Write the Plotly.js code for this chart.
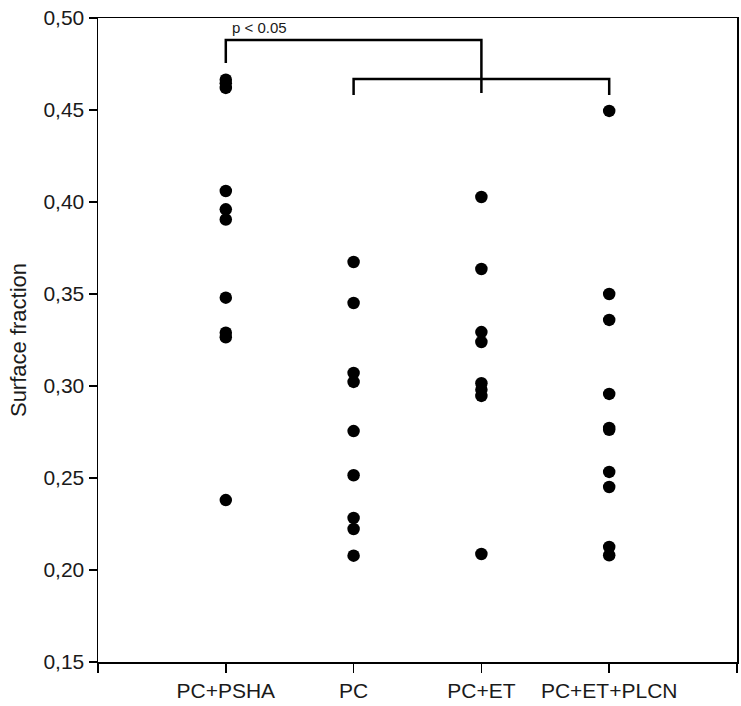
<!DOCTYPE html>
<html>
<head>
<meta charset="utf-8">
<script src="https://cdn.plot.ly/plotly-3.0.1.min.js"></script>
<style>
html,body{margin:0;padding:0;background:#fff;}
#chart{width:741px;height:706px;}
</style>
</head>
<body>
<div id="chart"></div>
<script>
// Category labels
const categories = ['PC+PSHA', 'PC', 'PC+ET', 'PC+ET+PLCN'];

// Surface fraction values per group
const pcPsha = [0.4665, 0.4645, 0.462, 0.406, 0.396, 0.3905, 0.348, 0.329, 0.3265, 0.238];
const pc = [0.3674, 0.3451, 0.3071, 0.3022, 0.2755, 0.2515, 0.2283, 0.2223, 0.2078];
const pcEt = [0.4027, 0.3636, 0.3293, 0.3239, 0.3015, 0.298, 0.2946, 0.2087];
const pcEtPlcn = [0.4495, 0.350, 0.3359, 0.2957, 0.2772, 0.2762, 0.2533, 0.2451, 0.2125, 0.2080];

const groups = [pcPsha, pc, pcEt, pcEtPlcn];

// Y tick values and labels (comma decimal)
const yTickVals = [0.15, 0.20, 0.25, 0.30, 0.35, 0.40, 0.45, 0.50];
const yTickText = ['0,15', '0,20', '0,25', '0,30', '0,35', '0,40', '0,45', '0,50'];

// Significance annotation
const sigLabel = 'p < 0.05';

const xs = [], ys = [];
groups.forEach((g, i) => {
  g.forEach(v => { xs.push(i + 1); ys.push(v); });
});

const trace = {
  type: 'scatter',
  mode: 'markers',
  x: xs,
  y: ys,
  marker: {color: '#000000', size: 12.5, line: {width: 0}},
  hoverinfo: 'x+y',
  showlegend: false
};

const lineStyle = {color: '#000000', width: 2.5};
// Bracket 1: PC+PSHA (1) to PC+ET (3); Bracket 2: PC (2) to PC+ET+PLCN (4)
const shapes = [
  {type: 'path', xref: 'x', yref: 'y',
   path: 'M 1 0.4755 L 1 0.488 L 3 0.488 L 3 0.4592', line: lineStyle},
  {type: 'path', xref: 'x', yref: 'y',
   path: 'M 2 0.4582 L 2 0.4668 L 4 0.4668 L 4 0.4582', line: lineStyle}
];

const layout = {
  width: 741,
  height: 706,
  margin: {l: 98, r: 4, t: 18, b: 44, pad: 0},
  paper_bgcolor: '#ffffff',
  plot_bgcolor: '#ffffff',
  font: {family: 'Liberation Sans, Arial, sans-serif', color: '#1a1a1a', size: 21},
  showlegend: false,
  xaxis: {
    range: [0, 5],
    tickmode: 'array',
    tickvals: [0, 1, 2, 3, 4, 5],
    ticktext: [''].concat(categories).concat(['']),
    ticks: 'outside',
    ticklen: 9,
    tickwidth: 1.5,
    tickcolor: '#000',
    showline: true,
    linecolor: '#000',
    linewidth: 1.5,
    mirror: true,
    showgrid: false,
    zeroline: false,
    tickfont: {size: 21, color: '#1a1a1a'},
    fixedrange: true
  },
  yaxis: {
    range: [0.15, 0.50],
    tickmode: 'array',
    tickvals: yTickVals,
    ticktext: yTickText,
    ticks: 'outside',
    ticklen: 8,
    tickwidth: 1.5,
    tickcolor: '#000',
    showline: true,
    linecolor: '#000',
    linewidth: 1.5,
    mirror: true,
    showgrid: false,
    zeroline: false,
    tickfont: {size: 21, color: '#1a1a1a'},
    title: {text: 'Surface fraction', font: {size: 22, color: '#1a1a1a'}, standoff: 10},
    fixedrange: true
  },
  shapes: shapes,
  annotations: [
    {x: 1.035, y: 0.4951, xref: 'x', yref: 'y', text: sigLabel, showarrow: false,
     xanchor: 'left', yanchor: 'middle', font: {size: 15, color: '#1a1a1a'}}
  ]
};

Plotly.newPlot('chart', [trace], layout, {displayModeBar: false, staticPlot: true});
</script>
</body>
</html>
